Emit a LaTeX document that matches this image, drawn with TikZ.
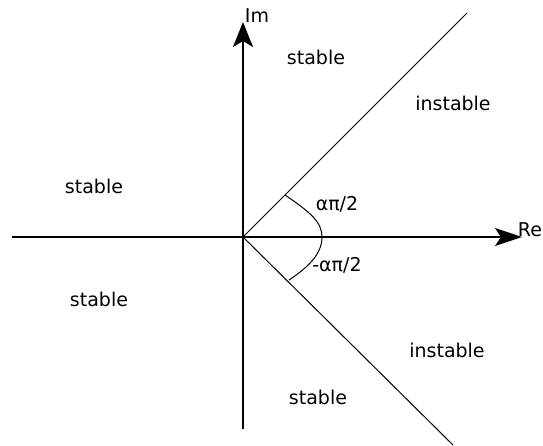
\documentclass[tikz,border=0pt]{standalone}
\usepackage{fontspec}
\setmainfont{DejaVu Sans}
\usetikzlibrary{arrows.meta}
\begin{document}
\begin{tikzpicture}[x=0.5pt,y=-0.5pt,
  lbl/.style={inner sep=0pt,font=\fontsize{9.5}{11}\selectfont},
  axis/.style={line width=1pt},
  ray/.style={line width=0.5pt},
  vtip/.style={-{Stealth[length=12.5pt,width=10pt,inset=3pt]}},
  htip/.style={-{Stealth[length=13.5pt,width=9pt,inset=3pt]}}]
\useasboundingbox (0,0) rectangle (543,446);
\coordinate (O) at (243,237);
\coordinate (ybot) at (243,429);
\coordinate (ytop) at (243,22);
\coordinate (xleft) at (12,237);
\coordinate (xright) at (522,237);
\coordinate (dtop) at (467,13);
\coordinate (dbot) at (453,445);
\coordinate (a1) at (285,195);
\coordinate (a2) at (322,237);
\coordinate (a3) at (289,280);
\draw[axis,vtip] (ybot) -- (ytop);
\draw[axis,htip] (xleft) -- (xright);
\draw[ray] (O) -- (dtop);
\draw[ray] (O) -- (dbot);
\draw[ray] (a1) .. controls (310,212) and (322,222) .. (a2)
  .. controls (322,253) and (310,266) .. (a3);
\node[lbl] (im) at (257,16) {Im};
\node[lbl] (re) at (530,230) {Re};
\node[lbl] (s1) at (316,57) {stable};
\node[lbl] (i1) at (453,103) {instable};
\node[lbl] (s2) at (94,186) {stable};
\node[lbl] (s3) at (99,299) {stable};
\node[lbl] (i2) at (447,350) {instable};
\node[lbl] (s4) at (318,397) {stable};
\node[lbl] (ang1) at (337,204) {απ/2};
\node[lbl] (ang2) at (337,265) {-απ/2};
\end{tikzpicture}
\end{document}
